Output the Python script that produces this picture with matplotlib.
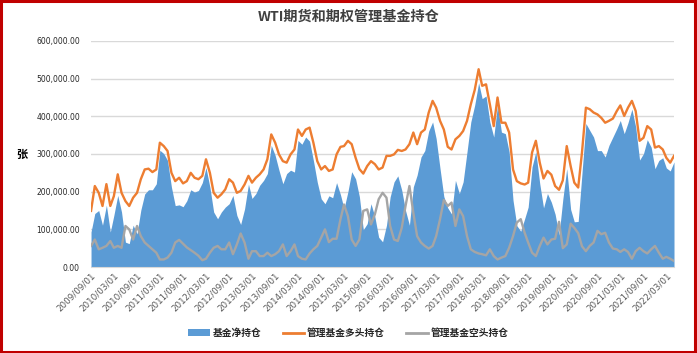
import matplotlib
matplotlib.use("Agg")
import matplotlib.pyplot as plt
import matplotlib.dates as mdates
from matplotlib.patches import Patch, Rectangle
from matplotlib.lines import Line2D
import pandas as pd
import numpy as np

plt.rcParams['font.family'] = ['Noto Sans CJK SC', 'DejaVu Sans']

# Monthly readings (thousands of contracts), 2009/09 .. 2022/05
start_month = "2009-09-01"

long_k = [149, 215, 197, 162, 220, 162, 188, 246, 197, 175, 162, 184, 197, 233, 259, 261,
          252, 259, 330, 321, 308, 250, 228, 237, 222, 228, 250, 237, 233, 242, 286, 250,
          197, 184, 193, 206, 233, 224, 197, 202, 219, 242, 224, 237, 246, 259, 286, 352,
          330, 299, 281, 277, 299, 312, 365, 348, 365, 370, 330, 281, 259, 268, 255, 259,
          299, 319, 321, 335, 326, 290, 260, 248, 268, 281, 273, 259, 264, 295, 295, 299,
          311, 308, 312, 326, 357, 326, 357, 365, 410, 441, 423, 388, 365, 319, 312, 339,
          348, 361, 388, 432, 470, 525, 481, 485, 432, 374, 450, 383, 383, 357, 259, 228,
          222, 219, 224, 304, 335, 277, 235, 255, 245, 215, 205, 230, 321, 268, 224, 211,
          304, 423, 419, 410, 405, 396, 383, 388, 394, 414, 429, 401, 423, 441, 414, 335,
          343, 374, 365, 317, 321, 312, 290, 277, 295]

short_k = [56, 73, 47, 51, 56, 69, 51, 56, 51, 109, 100, 73, 109, 82, 65, 56,
           47, 38, 20, 20, 25, 38, 65, 72, 62, 52, 45, 38, 30, 18, 22, 38,
           51, 56, 47, 47, 65, 34, 60, 89, 65, 22, 42, 42, 29, 29, 38, 29,
           34, 42, 60, 29, 42, 60, 29, 22, 20, 36, 47, 56, 78, 100, 66, 75,
           75, 127, 166, 135, 73, 56, 73, 149, 153, 113, 140, 180, 197, 184, 109, 73,
           69, 104, 162, 215, 144, 82, 65, 56, 49, 56, 82, 127, 178, 162, 171, 109,
           153, 135, 82, 47, 40, 36, 34, 31, 47, 29, 20, 25, 29, 51, 82, 118,
           127, 91, 65, 38, 29, 56, 78, 60, 73, 75, 120, 50, 60, 115, 104, 90,
           55, 42, 56, 65, 96, 87, 91, 65, 49, 47, 40, 47, 40, 22, 42, 51,
           42, 36, 47, 56, 38, 22, 27, 22, 16]

net_k = [93, 142, 150, 111, 164, 93, 137, 190, 146, 66, 62, 111, 88, 151, 194, 205,
         205, 221, 310, 301, 283, 212, 163, 165, 160, 176, 205, 199, 203, 224, 264, 212,
         146, 128, 146, 159, 168, 190, 137, 113, 154, 220, 182, 195, 217, 230, 248, 323,
         296, 257, 221, 248, 257, 252, 336, 326, 345, 334, 283, 225, 181, 168, 189, 184,
         224, 192, 155, 200, 253, 234, 187, 99, 115, 168, 133, 79, 67, 111, 186, 226,
         242, 204, 150, 111, 213, 244, 292, 309, 361, 385, 341, 261, 187, 157, 141, 230,
         195, 226, 306, 385, 430, 489, 447, 454, 385, 345, 430, 358, 354, 306, 177, 110,
         95, 128, 159, 266, 306, 221, 157, 195, 172, 140, 85, 180, 261, 153, 120, 121,
         249, 381, 363, 345, 309, 309, 292, 323, 345, 367, 389, 354, 383, 419, 372, 284,
         301, 338, 318, 261, 283, 290, 263, 255, 279]

series_names = ["基金净持仓", "管理基金多头持仓", "管理基金空头持仓"]
title = "WTI期货和期权管理基金持仓"
y_label = "张"
y_ticks = [0, 100000, 200000, 300000, 400000, 500000, 600000]
x_tick_start, x_tick_end = "2009-09-01", "2022-03-01"

dates = pd.date_range(start_month, periods=len(long_k), freq="MS")
long_v = np.array(long_k) * 1000
short_v = np.array(short_k) * 1000
net_v = np.array(net_k) * 1000

c_blue = "#5B9BD5"
c_orange = "#ED7D31"
c_gray = "#A5A5A5"

fig = plt.figure(figsize=(6.97, 3.53), dpi=100)
ax = fig.add_axes([0.1306, 0.2436, 0.8364, 0.6403])

ax.fill_between(dates, 0, net_v, color=c_blue, linewidth=0, zorder=2)
ax.plot(dates, long_v, color=c_orange, linewidth=1.7, zorder=3)
ax.plot(dates, short_v, color=c_gray, linewidth=1.7, zorder=3)

ax.set_ylim(0, 600000)
ax.set_yticks(y_ticks)
ax.set_yticklabels([f"{v:,.2f}" for v in y_ticks], fontsize=5.5, color="#262626",
                   family=["DejaVu Sans"])
ax.yaxis.grid(True, color="#D9D9D9", linewidth=1.0, zorder=0)
ax.set_axisbelow(True)

ax.set_xlim(dates[0], dates[-1])
xt = pd.date_range(x_tick_start, x_tick_end, freq="6MS")
ax.set_xticks(xt)
ax.set_xticklabels([d.strftime("%Y/%m/%d") for d in xt], rotation=45, ha="right",
                   rotation_mode="anchor", fontsize=6.3, color="#595959",
                   family=["DejaVu Sans"])

for s in ["top", "right", "left"]:
    ax.spines[s].set_visible(False)
ax.spines["bottom"].set_color("#D9D9D9")
ax.tick_params(axis="both", length=0, pad=3)
ax.tick_params(axis="y", pad=8)

fig.text(0.5, 0.952, title, ha="center", va="center", fontsize=10.2,
         fontweight="bold", color="#404040")
fig.text(0.032, 0.562, y_label, ha="center", va="center", fontsize=8,
         fontweight="bold", color="black")

handles = [Patch(facecolor=c_blue, edgecolor="none"),
           Line2D([0], [0], color=c_orange, linewidth=2),
           Line2D([0], [0], color=c_gray, linewidth=2)]
leg = fig.legend(handles, series_names, loc="center", bbox_to_anchor=(0.5, 0.057),
                 ncol=3, frameon=False, fontsize=7, handlelength=2.2,
                 handleheight=0.6, columnspacing=2.2, handletextpad=0.3)
for t in leg.get_texts():
    t.set_fontweight("bold")
    t.set_color("#262626")

fig.patches.append(Rectangle((0.002, 0.003), 0.995, 0.993, transform=fig.transFigure,
                             fill=False, edgecolor="#C00000", linewidth=2.2))

fig.savefig("out.png", dpi=100)
